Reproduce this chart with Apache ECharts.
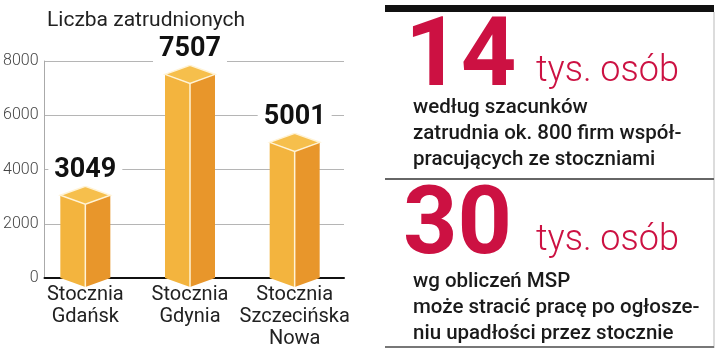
<!DOCTYPE html>
<html>
<head>
<meta charset="utf-8">
<script src="https://cdn.jsdelivr.net/npm/echarts@6/dist/echarts.min.js"></script>
<style>
html,body{margin:0;padding:0;background:#fff;}
#chart{width:720px;height:354px;}
</style>
</head>
<body>
<div id="chart"></div>
<script>
const chartTitle = 'Liczba zatrudnionych';
const categories = ['Stocznia\nGdańsk', 'Stocznia\nGdynia', 'Stocznia\nSzczecińska\nNowa'];
const employees = [3049, 7507, 5001];
const yMin = 0, yMax = 8000, yStep = 2000;
const box1Number = '14';
const box1Unit = 'tys. osób';
const box1Lines = ['według szacunków', 'zatrudnia ok. 800 firm współ-', 'pracujących ze stoczniami'];
const box2Number = '30';
const box2Unit = 'tys. osób';
const box2Lines = ['wg obliczeń MSP', 'może stracić pracę po ogłosze-', 'niu upadłości przez stocznie'];

const FONT = 'Roboto, "Noto Sans", sans-serif';
const RED = '#cc1142';
const chart = echarts.init(document.getElementById('chart'), null, {renderer: 'canvas'});

function renderBox(params, api) {
  const x = api.value(0), v = api.value(1);
  const top = api.coord([x, v]);
  const base = api.coord([x, 0]);
  const hw = 25, d = 9;
  const cx = top[0], ty = top[1], by = base[1];
  return {
    type: 'group',
    children: [
      {type: 'polygon', shape: {points: [[cx - hw, ty], [cx, ty + d], [cx, by + d], [cx - hw, by]]},
        style: {fill: '#f3b43e'}},
      {type: 'polygon', shape: {points: [[cx, ty + d], [cx + hw, ty], [cx + hw, by], [cx, by + d]]},
        style: {fill: '#e8962b'}},
      {type: 'polygon', shape: {points: [[cx - hw, ty], [cx, ty - d], [cx + hw, ty], [cx, ty + d]]},
        style: {fill: '#f6bf4c', stroke: '#fff3d6', lineWidth: 1.5}},
      {type: 'line', shape: {x1: cx, y1: ty + d, x2: cx, y2: by + d},
        style: {stroke: '#fff3d6', lineWidth: 1.5}},
      {type: 'text', x: cx, y: ty - 25,
        style: {text: String(v), fill: '#111', font: 'bold 27px ' + FONT,
          align: 'center', verticalAlign: 'middle', backgroundColor: '#fff', padding: [2, 6]}}
    ]
  };
}

const gText = [];
function addLines(lines, y0) {
  lines.forEach((t, i) => {
    gText.push({type: 'text', left: 413, top: y0 + i * 26,
      style: {text: t, fill: '#1a1a1a', font: '500 20.5px ' + FONT}});
  });
}
addLines(box1Lines, 97);
addLines(box2Lines, 271);

const option = {
  animation: false,
  backgroundColor: '#fff',
  title: {text: chartTitle, left: 42, top: 5,
    textStyle: {fontFamily: FONT, fontSize: 21, fontWeight: 'normal', color: '#222'}},
  grid: [
    {left: 43, right: 376, top: 61, bottom: 76},
    {left: 33, right: 373, top: 61, bottom: 76}
  ],
  xAxis: [
    {type: 'category', gridIndex: 0, data: categories, axisLabel: {show: false}, axisTick: {show: false},
      axisLine: {lineStyle: {color: '#111', width: 2}}},
    {type: 'category', gridIndex: 1, data: categories, axisTick: {show: false}, axisLine: {show: false},
      axisLabel: {interval: 0, margin: 6, color: '#222', fontFamily: FONT, fontSize: 20, lineHeight: 22}}
  ],
  yAxis: [
    {type: 'value', gridIndex: 0, min: yMin, max: yMax, interval: yStep,
      axisLine: {show: true, lineStyle: {color: '#aaa', width: 1}}, axisTick: {show: false},
      splitLine: {lineStyle: {color: '#b5b5b5', width: 1}},
      axisLabel: {margin: 6, color: '#444', fontFamily: FONT, fontSize: 16, fontWeight: 300,
        formatter: v => String(v)}},
    {type: 'value', gridIndex: 1, min: yMin, max: yMax, interval: yStep, show: false}
  ],
  series: [{
    type: 'custom', xAxisIndex: 1, yAxisIndex: 1,
    data: employees.map((v, i) => [i, v]),
    renderItem: renderBox
  }],
  graphic: [
    {type: 'rect', shape: {x: 385, y: 5, width: 329, height: 7}, style: {fill: '#111'}},
    {type: 'line', shape: {x1: 714, y1: 12, x2: 714, y2: 348}, style: {stroke: '#d0d0d0', lineWidth: 1.5}},
    {type: 'line', shape: {x1: 385, y1: 179, x2: 714, y2: 179}, style: {stroke: '#666', lineWidth: 2}},
    {type: 'line', shape: {x1: 385, y1: 347, x2: 714, y2: 347}, style: {stroke: '#777', lineWidth: 2}},
    {type: 'text', left: 405, top: 12, style: {text: box1Number, fill: RED, font: 'bold 97px ' + FONT}},
    {type: 'text', left: 536, top: 54, style: {text: box1Unit, fill: RED, font: '300 36px ' + FONT}},
    {type: 'text', left: 403, top: 182, style: {text: box2Number, fill: RED, font: 'bold 95px ' + FONT}},
    {type: 'text', left: 536, top: 223, style: {text: box2Unit, fill: RED, font: '300 36px ' + FONT}}
  ].concat(gText)
};
chart.setOption(option);
</script>
</body>
</html>
